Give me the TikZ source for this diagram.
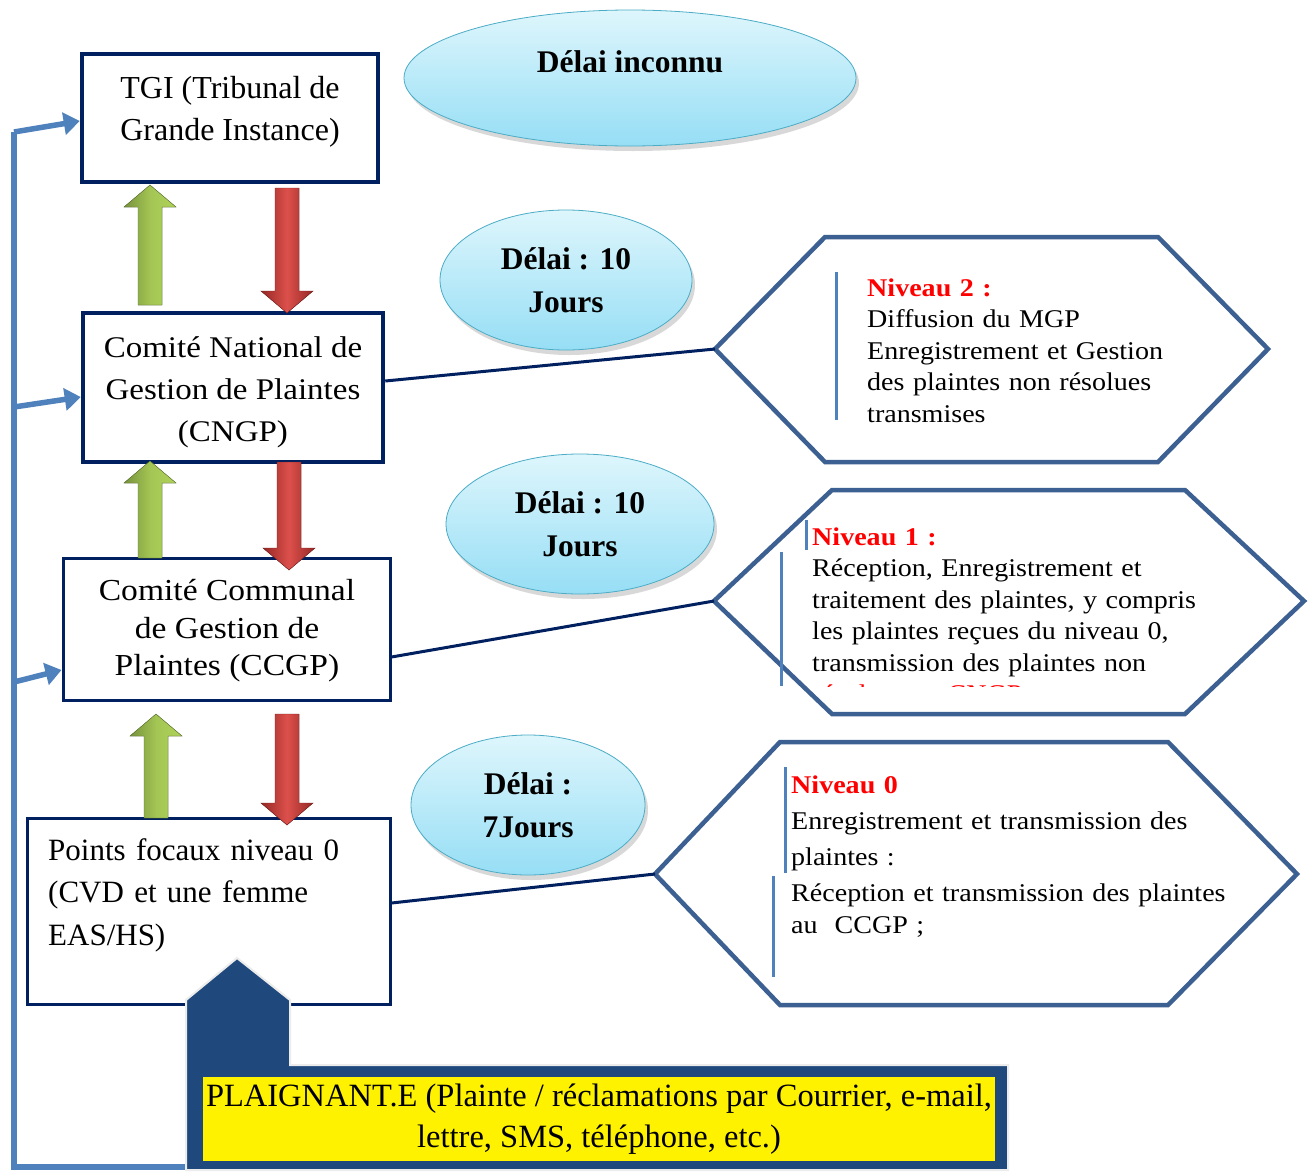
\documentclass[tikz,border=0pt]{standalone}
\usepackage{fontspec}
\setmainfont{Liberation Serif}
\newfontfamily\camb{Liberation Serif}[FakeStretch=1.1]
\newfontfamily\plfont{Liberation Serif}[FakeStretch=1.0]
\usetikzlibrary{shapes.geometric,arrows.meta,shadows}
\definecolor{navy}{RGB}{0,32,96}
\definecolor{hexblue}{RGB}{60,96,145}
\definecolor{barblue}{RGB}{79,129,189}
\definecolor{darknavy}{RGB}{31,73,125}
\definecolor{cyanA}{RGB}{222,246,252}
\definecolor{cyanB}{RGB}{150,222,245}
\definecolor{cyanE}{RGB}{75,172,198}
\definecolor{grA}{RGB}{118,146,60}
\definecolor{grB}{RGB}{175,210,90}
\definecolor{rdA}{RGB}{150,40,38}
\definecolor{rdB}{RGB}{220,80,75}
\tikzset{
  x=1pt,y=-1pt,
  boxframe/.style={draw=navy,line width=4.5pt,fill=white,rectangle,inner sep=0pt},
  boxtext/.style={align=center,font=\fontsize{32}{42}\selectfont},
  delai/.style={ellipse,draw=cyanE,line width=0.8pt,top color=cyanA,bottom color=cyanB,
     drop shadow={shadow xshift=3pt,shadow yshift=-5pt,opacity=0.3},inner sep=0pt,
     font=\bfseries\fontsize{31.5}{43}\selectfont,align=center},
  hexa/.style={draw=hexblue,line width=4.5pt,line join=miter,fill=white},
  hextext/.style={anchor=base west,text width=480pt,align=left,inner sep=0pt,
     font=\camb\fontsize{25.5}{31.5}\selectfont},
  bar/.style={draw=barblue,line width=3pt},
  link/.style={draw=navy,line width=3pt},
  fb/.style={draw=barblue,line width=5.5pt},
  fbarrow/.style={fb,-{Triangle[length=16pt,width=22pt]}},
}
\newcommand\UpArr[4]{% x, tip y, base y, name
  \fill[left color=grA,right color=grB,middle color=grB!80!grA, draw=grA!80!black,line width=0.4pt]
    (#1-12,#3) -- (#1-12,#2+22) -- (#1-26,#2+22) -- (#1,#2) -- (#1+26,#2+22) -- (#1+12,#2+22) -- (#1+12,#3) -- cycle;
  \coordinate (#4) at (#1,#2);}
\newcommand\DnArr[4]{% x, tip y, base y, name
  \fill[left color=rdA,right color=rdA,middle color=rdB, draw=rdA!80!black,line width=0.4pt]
    (#1-12,#3) -- (#1-12,#2-22) -- (#1-26,#2-22) -- (#1,#2) -- (#1+26,#2-22) -- (#1+12,#2-22) -- (#1+12,#3) -- cycle;
  \coordinate (#4) at (#1,#2);}
\begin{document}
\begin{tikzpicture}
\useasboundingbox[fill=white] (0,0) rectangle (1311,1173);

% feedback line
\coordinate (fbtop) at (14,132);
\coordinate (fb2) at (14,407);
\coordinate (fb3) at (14,682);
\coordinate (fbbot) at (14,1167);
\coordinate (fbend) at (185,1167);

% boxes
\node[boxframe,minimum width=296pt,minimum height=128pt] (tgi) at (230,118) {};
\node[boxtext] (tgit) at (230,112) {TGI (Tribunal de\\Grande Instance)};
\node[boxframe,minimum width=300pt,minimum height=149pt] (cngp) at (233,387.5) {};
\node[boxtext,font=\camb\fontsize{30}{42}\selectfont] (cngpt) at (233,392) {Comité National de\\Gestion de Plaintes\\(CNGP)};
\node[boxframe,line width=3pt,minimum width=327pt,minimum height=142pt] (ccgp) at (226.5,629) {};
\node[boxtext,font=\camb\fontsize{30.5}{37.5}\selectfont] (ccgpt) at (227,631) {Comité Communal\\de Gestion de\\Plaintes (CCGP)};
\node[boxframe,line width=3pt,minimum width=363pt,minimum height=186pt] (pf) at (208.5,911) {};
\node[align=left,anchor=base west,text width=340pt,inner sep=0pt,font=\fontsize{31}{42.5}\selectfont] (pft) at (48,860) {Points focaux niveau 0\\(CVD et une femme\\EAS/HS)};

% feedback arrows
\draw[fb] (fbend) -- (fbbot) -- (fbtop);
\draw[fbarrow] (fbtop) -- (tgi.west |- 0,121);
\draw[fbarrow] (fb2) -- (cngp.west |- 0,397);
\draw[fbarrow] (fb3) -- (ccgp.west |- 0,670);

% up / down arrows
\UpArr{150}{185}{305}{ga1}
\DnArr{287}{313}{188}{ra1}
\UpArr{150}{461}{558}{ga2}
\DnArr{289}{570}{462}{ra2}
\UpArr{156}{714}{818}{ga3}
\DnArr{287}{825}{714}{ra3}

% ellipses
\node[delai,minimum width=452pt,minimum height=136pt] (e0) at (630,78) {};
\node[font=\bfseries\fontsize{31.5}{43}\selectfont] (e0t) at (630,62) {Délai inconnu};
\node[delai,minimum width=252pt,minimum height=140pt] (e1) at (566,280) {Délai : 10\\Jours};
\node[delai,minimum width=268pt,minimum height=140pt] (e2) at (580,524) {Délai : 10\\Jours};
\node[delai,minimum width=234pt,minimum height=140pt] (e3) at (528,805) {Délai :\\7Jours};

% hexagons
\coordinate (h1) at (715,349);
\coordinate (h2) at (714,601);
\coordinate (h3) at (655,874);
\draw[hexa] (h1) -- (825,237) -- (1158,237) -- (1268,349) -- (1158,462) -- (825,462) -- cycle;
\draw[hexa] (h2) -- (832,490) -- (1185,490) -- (1304,601) -- (1185,714) -- (832,714) -- cycle;
\draw[hexa] (h3) -- (780,742) -- (1168,742) -- (1297,874) -- (1168,1005) -- (780,1005) -- cycle;

% connectors
\draw[link] (cngp.east |- 0,381) -- (h1);
\draw[link] (ccgp.east |- 0,657) -- (h2);
\draw[link] (pf.east |- 0,903) -- (h3);

% hexagon texts
\draw[bar] (836,272) -- (836,420);
\node[hextext] (n2) at (867,296) {\textcolor{red}{\bfseries Niveau 2 :}\\Diffusion du MGP\\Enregistrement et Gestion\\des plaintes non résolues\\transmises};
\draw[bar] (806,520) -- (806,550);
\draw[bar] (781,552) -- (781,686);
\begin{scope}
\clip (700,480) rectangle (1311,686);
\node[hextext] (n1) at (812,545) {\textcolor{red}{\bfseries Niveau 1 :}\\Réception, Enregistrement et\\traitement des plaintes, y compris\\les plaintes reçues du niveau 0,\\transmission des plaintes non\\\textcolor{red}{résolues au CNGP}};
\end{scope}
\draw[bar] (785,767) -- (785,873);
\draw[bar] (773,876) -- (773,977);
\node[hextext,font=\camb\fontsize{25.5}{36}\selectfont] (n0) at (791,793) {\textcolor{red}{\bfseries Niveau 0}\\Enregistrement et transmission des\\plaintes :};
\node[hextext,font=\camb\fontsize{25.5}{32}\selectfont] (n0b) at (791,901) {Réception et transmission des plaintes\\au\ \ CCGP ;};

% plaignant arrow
\fill[darknavy,draw=white!85!gray,line width=2pt] (186,1170) -- (186,1000) -- (237,958) -- (290,1000) -- (290,1065) -- (1008,1065) -- (1008,1170) -- cycle;
\node[fill=yellow,minimum width=792pt,minimum height=84pt,inner sep=0pt,align=center,
  font=\plfont\fontsize{32.5}{41}\selectfont] (pl) at (599,1119)
  {PLAIGNANT.E (Plainte / réclamations par Courrier, e-mail,\\lettre, SMS, téléphone, etc.)};
\end{tikzpicture}
\end{document}
